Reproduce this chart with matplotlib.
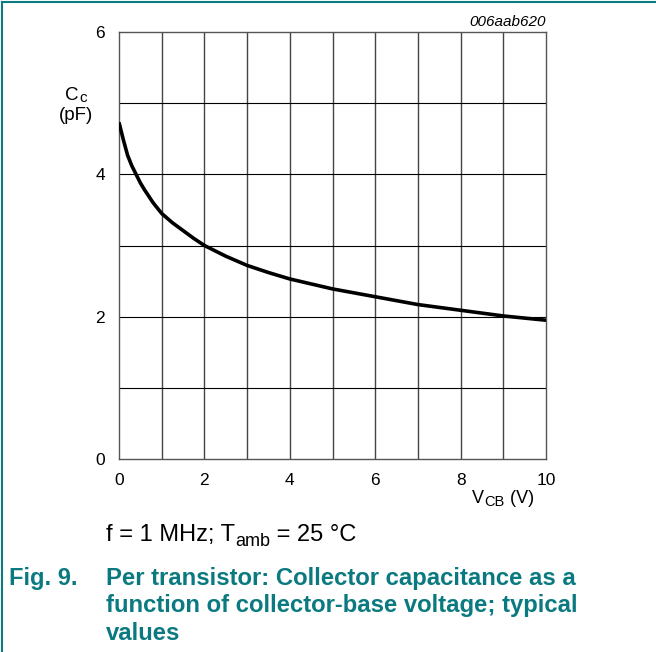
import matplotlib
matplotlib.use("Agg")
import matplotlib.pyplot as plt
from matplotlib.lines import Line2D

plt.rcParams['font.family'] = ['Liberation Sans', 'DejaVu Sans']

# Data
v_cb = [0, 0.1, 0.2, 0.3, 0.4, 0.5, 0.6, 0.8, 1.0, 1.25, 1.5, 1.75, 2, 2.5, 3, 3.5, 4, 4.5, 5, 6, 7, 8, 9, 10]
c_c = [4.73, 4.49, 4.27, 4.12, 4.0, 3.88, 3.78, 3.6, 3.45, 3.32, 3.21, 3.1, 3.0, 2.85, 2.72, 2.62, 2.53, 2.46, 2.39, 2.28, 2.17, 2.09, 2.01, 1.95]
x_ticks = [0, 2, 4, 6, 8, 10]
y_ticks = [0, 2, 4, 6]

teal = '#0b7a80'
W, H = 656, 652

fig = plt.figure(figsize=(6.56, 6.52), dpi=100)
ax = fig.add_axes([119/W, 1-459/H, 427/W, 427/H])

ax.plot(v_cb, c_c, color='black', lw=2.6, solid_capstyle='butt', solid_joinstyle='round', zorder=3)
ax.set_xlim(0, 10)
ax.set_ylim(0, 6)
for xv in range(1, 10):
    ax.axvline(xv, color='#444444', lw=1.0, zorder=1)
for yv in range(1, 6):
    ax.axhline(yv, color='black', lw=0.8, zorder=1)
for s in ax.spines.values():
    s.set_color('#555555')
    s.set_linewidth(1.0)
ax.set_xticks(x_ticks)
ax.set_yticks(y_ticks)
ax.tick_params(length=0, labelsize=12.5, pad=10)

renderer = fig.canvas.get_renderer()

def rich(x_px, base_px, pieces, align='left'):
    """pieces: list of (text, size, dy_px) placed along a baseline (pixel coords from top)."""
    widths = []
    arts = []
    for txt, size, dy in pieces:
        t = fig.text(0, 0, txt, fontsize=size, ha='left', va='baseline')
        w = t.get_window_extent(renderer).width
        widths.append(w)
        arts.append((t, dy))
    total = sum(widths)
    if align == 'center':
        x_px = x_px - total / 2
    elif align == 'right':
        x_px = x_px - total
    cx = x_px
    for (t, dy), w in zip(arts, widths):
        t.set_position((cx / W, 1 - (base_px + dy) / H))
        cx += w

# y-axis label
rich(76, 100, [('C', 13.5, 0), ('c', 11, 2)], align='center')
fig.text(76/W, 1-115/H, '(pF)', ha='center', va='center', fontsize=13.5)
# x-axis label
rich(503, 503, [('V', 13, 0), ('CB', 10.5, 3), (' (V)', 13, 0)], align='center')
fig.text(546/W, 1-22/H, '006aab620', ha='right', va='center', fontsize=11, style='italic')
# condition line
rich(106, 541, [('f = 1 MHz; T', 17, 0), ('amb', 13, 5), (' = 25 °C', 17, 0)])

fig.text(9/W, 1-578/H, 'Fig. 9.', ha='left', va='center', fontsize=17, fontweight='bold', color=teal)
caption = ['Per transistor: Collector capacitance as a',
           'function of collector-base voltage; typical',
           'values']
for i, line in enumerate(caption):
    fig.text(106/W, 1-(578+27.5*i)/H, line, ha='left', va='center', fontsize=17.2, fontweight='bold', color=teal)

fig.add_artist(Line2D([2/W, 1], [1-2/H, 1-2/H], color=teal, lw=1.5, transform=fig.transFigure))
fig.add_artist(Line2D([2/W, 2/W], [0, 1-2/H], color=teal, lw=1.5, transform=fig.transFigure))

fig.savefig('out.png', dpi=100)
